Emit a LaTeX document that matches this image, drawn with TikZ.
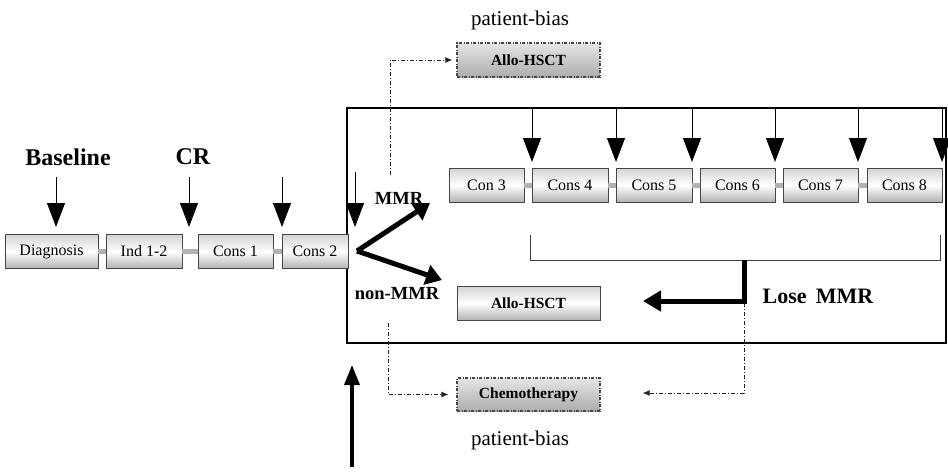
\documentclass[tikz,border=0pt]{standalone}
\usepackage{fontspec}
\setmainfont{Liberation Serif}
\usetikzlibrary{arrows.meta}
\tikzset{
  stagebox/.style={draw=gray!55!black, line width=0.8pt, top color=gray!35, bottom color=gray!60, middle color=white,
    minimum height=34pt, inner sep=0pt, font=\fontsize{16}{19}\selectfont},
  altbox/.style={stagebox, line width=1.2pt, dash pattern=on 3pt off 1.5pt on 1pt off 1.5pt,
    top color=gray!20, middle color=white, bottom color=gray!65,
    font=\fontsize{15.5}{18}\selectfont\bfseries},
  linkbar/.style={draw=gray!60, line width=5pt},
  dnarrow/.style={line width=1pt, -{Triangle[width=18pt,length=24pt]}},
  thickarrow/.style={line width=5pt, -{Triangle[width=20pt,length=16pt]}},
  ddline/.style={draw=gray!25!black, line width=1pt, dash pattern=on 4pt off 2pt on 1pt off 2pt},
  ddarrow/.style={ddline, -{Latex[length=7pt,width=6pt]}},
  biglabel/.style={font=\fontsize{24}{27}\selectfont\bfseries},
  pblabel/.style={font=\fontsize{21}{24}\selectfont},
  midlabel/.style={font=\fontsize{18.5}{21}\selectfont\bfseries, inner sep=0pt},
}
\begin{document}
\begin{tikzpicture}[x=1pt,y=-1pt]
\useasboundingbox (0,0) rectangle (948,472);
% frame
\node[draw, line width=2.5pt, minimum width=599pt, minimum height=235pt, inner sep=0pt] (frame) at (646.5,225.5) {};
% row 1
\node[stagebox, minimum width=93pt] (diag) at (51.5,251.5) {Diagnosis};
\node[stagebox, minimum width=76pt] (ind) at (144,251.5) {Ind 1-2};
\node[stagebox, minimum width=75pt] (cons1) at (235.5,251.5) {Cons 1};
\node[stagebox, minimum width=66pt] (cons2) at (315,251.5) {Cons 2};
\draw[linkbar] (diag.east) -- (ind.west);
\draw[linkbar] (ind.east) -- (cons1.west);
\draw[linkbar] (cons1.east) -- (cons2.west);
% row 2
\node[stagebox, minimum width=75pt] (con3) at (486.5,185) {Con 3};
\node[stagebox, minimum width=76pt] (cons4) at (570,185) {Cons 4};
\node[stagebox, minimum width=76pt] (cons5) at (654,185) {Cons 5};
\node[stagebox, minimum width=75pt] (cons6) at (737.5,185) {Cons 6};
\node[stagebox, minimum width=75pt] (cons7) at (820.5,185) {Cons 7};
\node[stagebox, minimum width=75pt] (cons8) at (904.5,185) {Cons 8};
\draw[linkbar] (con3.east) -- (cons4.west);
\draw[linkbar] (cons4.east) -- (cons5.west);
\draw[linkbar] (cons5.east) -- (cons6.west);
\draw[linkbar] (cons6.east) -- (cons7.west);
\draw[linkbar] (cons7.east) -- (cons8.west);
% other boxes
\node[stagebox, minimum width=143pt, font=\fontsize{15.5}{18}\selectfont\bfseries] (allo) at (528.5,303) {Allo-HSCT};
\node[altbox, minimum width=143pt] (allotop) at (528.5,60) {Allo-HSCT};
\node[altbox, minimum width=143pt, minimum height=33pt] (chemo) at (528.5,394.5) {Chemotherapy};
% labels
\node[biglabel] (lbase) at (68,157) {Baseline};
\node[biglabel] (lcr) at (193,157) {CR};
\node[pblabel] (pbtop) at (520,20) {patient-bias};
\node[pblabel] (pbbot) at (520,440) {patient-bias};
\node[midlabel] (lmmr) at (399,198) {MMR};
\node[midlabel] (lnon) at (397,294) {non-MMR};
\node[font=\fontsize{22}{25}\selectfont\bfseries] (llose) at (818,296) {Lose\, MMR};
% row 1 arrows
\draw[dnarrow] (56,177) -- (56,227);
\draw[dnarrow] (189,177) -- (189,227);
\draw[dnarrow] (282,177) -- (282,227);
\draw[dnarrow] (355,172) -- (355,227);
% row 2 arrows
\foreach \xx in {532,616,692,775,858,942}
  \draw[dnarrow] (\xx,108) -- (\xx,162);
% split arrows
\coordinate (split) at (357,251);
\coordinate (mmrtip) at (430,203);
\coordinate (nontip) at (442,280);
\draw[thickarrow] (split) -- (mmrtip);
\draw[thickarrow] (split) -- (nontip);
% bracket
\coordinate (brL) at (530,235);
\coordinate (brR) at (940,235);
\draw[gray!50!black, line width=1pt] (brL) -- (530,260) -- (940,260) -- (brR);
% lose MMR arrow
\coordinate (lose0) at (744,260);
\coordinate (losetip) at (643,301);
\draw[line width=5pt, -{Triangle[width=20pt,length=18pt]}] (lose0) -- (744,301) -- (losetip);
% dash-dot connectors
\coordinate (ddA) at (390,175);
\draw[ddarrow] (ddA) |- ([xshift=-4pt]allotop.west);
\coordinate (ddB) at (388,323);
\draw[ddarrow] (ddB) |- ([xshift=-8pt]chemo.west);
\coordinate (ddC) at (744,303);
\draw[ddarrow] (ddC) -- (744,393) -- ([xshift=42pt]chemo.east |- 0,393);
% bottom arrow
\coordinate (upfoot) at (352,467);
\draw[line width=3.5pt, -{Triangle[width=15pt,length=20pt]}] (upfoot) -- (352,365);
\end{tikzpicture}
\end{document}
